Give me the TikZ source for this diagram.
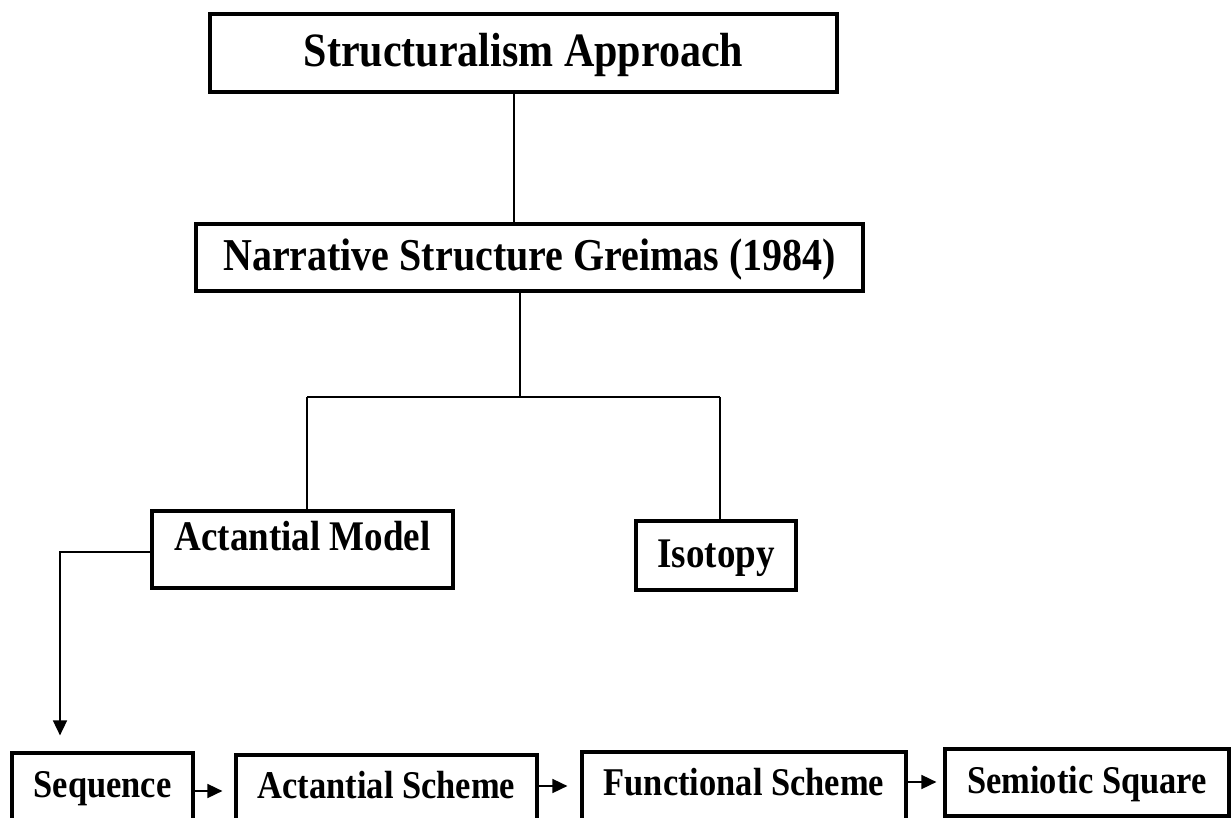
\documentclass[tikz,border=0pt]{standalone}
\usepackage{fontspec}
\setmainfont{Liberation Serif}[FakeStretch=0.877]
\usetikzlibrary{arrows.meta,calc}
\begin{document}
\begin{tikzpicture}[x=1pt,y=-1pt,
  box/.style={draw, line width=3.2pt, inner sep=0pt, text depth=0pt, align=center},
  fbig/.style={font=\bfseries\fontsize{47.9}{56}\selectfont},
  fmid/.style={font=\bfseries\fontsize{45.6}{54}\selectfont},
  fsub/.style={font=\bfseries\fontsize{42.2}{50}\selectfont},
  fsmall/.style={font=\bfseries\fontsize{39.3}{46}\selectfont},
  conn/.style={line width=1.7pt},
  arr/.style={conn, -{Triangle[length=15pt,width=14pt]}}]
\clip (0,0) rectangle (1232,818);
% boxes
\node[box, fbig, minimum width=627pt, minimum height=78pt, text height=28pt] (top) at (523.5,53) {Structuralism Approach};
\node[box, fmid, minimum width=667pt, minimum height=67pt, text height=27pt] (narr) at (529.5,257.5) {Narrative Structure Greimas (1984)};
\node[box, fsub, minimum width=301pt, minimum height=77pt, text height=1pt] (am) at (302.5,549.5) {Actantial Model};
\node[box, fsub, minimum width=160pt, minimum height=69pt, text height=23pt] (iso) at (716,555.5) {Isotopy};
\node[box, fsmall, minimum width=181pt, minimum height=77pt, text height=12pt] (seq) at (102.5,791.5) {Sequence};
\node[box, fsmall, minimum width=301pt, minimum height=75pt, text height=12pt] (as) at (386.5,792.5) {Actantial Scheme};
\node[box, fsmall, minimum width=324pt, minimum height=78pt, text height=9pt] (fs) at (744,791) {Functional Scheme};
\node[box, fsmall, minimum width=284pt, minimum height=67pt, text height=22pt] (ss) at (1087,782.5) {Semiotic Square};
% helper coordinates
\coordinate (c1) at (514,0);
\coordinate (j) at (520,397);
\coordinate (hl) at (307,397);
\coordinate (hr) at (720,397);
\coordinate (bend) at (60,552);
\coordinate (a1) at (0,791);
\coordinate (a2) at (0,786);
\coordinate (a3) at (0,782);
% connectors
\draw[conn] (top.south -| c1) -- (narr.north -| c1);
\draw[conn] (narr.south -| j) -- (j);
\draw[conn] (hl) -- (hr);
\draw[conn] (hl) -- (am.north -| hl);
\draw[conn] (hr) -- (iso.north -| hr);
\draw[arr, shorten >=16pt] (am.west |- bend) -- (bend) -- (seq.north -| bend);
\draw[arr, shorten >=12pt] (seq.east |- a1) -- (as.west |- a1);
\draw[arr, shorten >=13pt] (as.east |- a2) -- (fs.west |- a2);
\draw[arr, shorten >=7pt] (fs.east |- a3) -- (ss.west |- a3);
\end{tikzpicture}
\end{document}
